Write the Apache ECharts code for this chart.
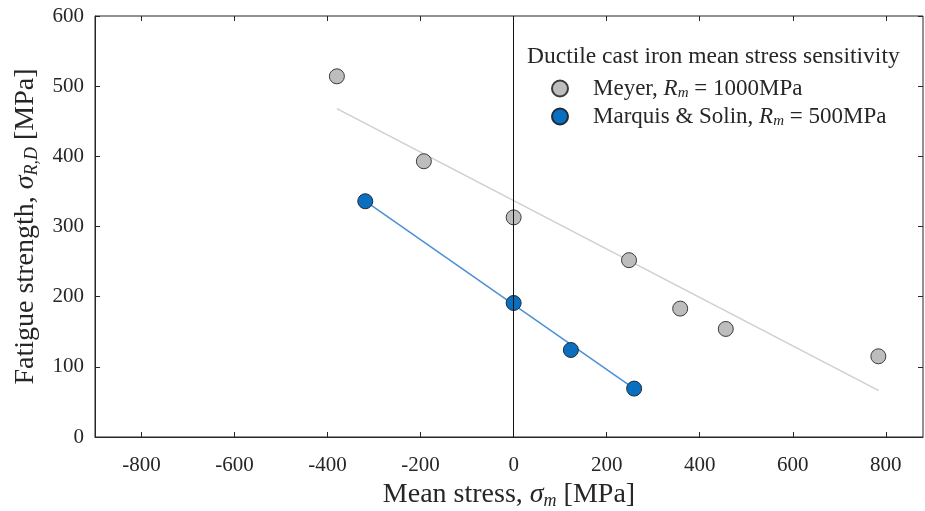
<!DOCTYPE html>
<html>
<head>
<meta charset="utf-8">
<script src="https://cdn.jsdelivr.net/npm/echarts@6/dist/echarts.min.js"></script>
<style>
  html, body { margin: 0; padding: 0; background: #fff; }
  #chart { width: 925px; height: 511px; }
</style>
</head>
<body>
<div id="chart"></div>
<script>
// mean stress [MPa], fatigue strength [MPa]
var meyerX = [-380, -193, 0, 248, 358, 456, 784]
var meyerY = [514, 393, 313, 252, 183, 154, 115]
var meyerFit = [[-380, 468], [785, 66]]

var msX = [-319, 0, 123, 259]
var msY = [336, 191, 124, 69]
var msFit = [[-319, 336], [259, 69]]

var xTicks = [-800, -600, -400, -200, 0, 200, 400, 600, 800]
var legendTitle = 'Ductile cast iron mean stress sensitivity'

var font = 'Liberation Serif'
var ink = '#262626'

function pairs (xs, ys) {
  return xs.map((x, i) => [x, ys[i]])
}

var chart = echarts.init(document.getElementById('chart'))

var richMath = {
  i: { fontFamily: font, fontStyle: 'italic', fontSize: 23, color: ink, lineHeight: 24 },
  sub: { fontFamily: font, fontStyle: 'italic', fontSize: 15, color: ink, lineHeight: 14, padding: [10, 0, 0, 0] },
  t: { fontFamily: font, fontSize: 23, color: ink, lineHeight: 24 }
}

var richName = {
  t: { fontFamily: font, fontSize: 28, color: ink },
  g: { fontFamily: font, fontStyle: 'italic', fontSize: 28, color: ink },
  s: { fontFamily: font, fontStyle: 'italic', fontSize: 18, color: ink, padding: [13, 0, 0, 0] }
}

chart.setOption({
  animation: false,
  title: {
    text: legendTitle,
    left: 522,
    top: 40,
    textStyle: { fontFamily: font, fontSize: 23.5, fontWeight: 'normal', color: ink }
  },
  legend: {
    orient: 'vertical',
    left: 551,
    top: 76,
    padding: 0,
    itemWidth: 16,
    itemHeight: 16,
    itemGap: 3,
    icon: 'circle',
    data: ['Meyer', 'Marquis'],
    formatter: name => name === 'Meyer'
      ? '{t|Meyer, }{i|R}{sub|m}{t| = 1000MPa}'
      : '{t|Marquis & Solin, }{i|R}{sub|m}{t| = 500MPa}',
    textStyle: { padding: [0, 0, 0, 20], rich: richMath }
  },
  grid: {
    left: 95, right: 2, top: 16, bottom: 74,
    outerBoundsMode: 'none',
    show: true, borderColor: '#262626', borderWidth: 1
  },
  xAxis: [{
    type: 'value',
    min: -900,
    max: 880,
    name: '{t|Mean stress, }{g|σ}{s|m}{t| [MPa]}',
    nameLocation: 'middle',
    nameGap: 41,
    nameTextStyle: { rich: richName },
    axisLine: { onZero: false, lineStyle: { color: ink } },
    axisTick: { inside: true, length: 5, customValues: xTicks, lineStyle: { color: ink } },
    axisLabel: { customValues: xTicks, fontFamily: font, fontSize: 21, color: ink, margin: 18 },
    splitLine: { show: false }
  }, {
    type: 'value',
    position: 'top',
    min: -900,
    max: 880,
    axisLine: { show: false, onZero: false },
    axisTick: { inside: true, length: 5, customValues: xTicks, lineStyle: { color: ink } },
    axisLabel: { show: false },
    splitLine: { show: false }
  }],
  yAxis: [{
    type: 'value',
    min: 0,
    max: 600,
    interval: 100,
    name: '{t|Fatigue strength, }{g|σ}{s|R,D}{t| [MPa]}',
    nameLocation: 'middle',
    nameRotate: 90,
    nameGap: 44,
    nameTextStyle: { rich: richName },
    axisLine: { onZero: false, lineStyle: { color: ink } },
    axisTick: { inside: true, length: 5, lineStyle: { color: ink } },
    axisLabel: { fontFamily: font, fontSize: 21, color: ink, margin: 11 },
    splitLine: { show: false }
  }, {
    type: 'value',
    position: 'right',
    min: 0,
    max: 600,
    interval: 100,
    axisLine: { show: false, onZero: false },
    axisTick: { inside: true, length: 5, lineStyle: { color: ink } },
    axisLabel: { show: false },
    splitLine: { show: false }
  }],
  series: [{
    name: 'MeyerFit',
    type: 'line',
    data: meyerFit,
    symbol: 'none',
    lineStyle: { color: '#cfcfcf', width: 1.5 },
    markLine: {
      silent: true,
      symbol: 'none',
      label: { show: false },
      lineStyle: { color: '#111', width: 1, type: 'solid' },
      data: [{ xAxis: 0 }]
    },
    z: 1
  }, {
    name: 'MarquisFit',
    type: 'line',
    data: msFit,
    symbol: 'none',
    lineStyle: { color: '#4d8fd6', width: 1.5 },
    z: 1
  }, {
    name: 'Meyer',
    type: 'scatter',
    data: pairs(meyerX, meyerY),
    symbolSize: 15,
    itemStyle: { color: '#bdbdbd', borderColor: '#3a3a3a', borderWidth: 1, opacity: 1 },
    z: 3
  }, {
    name: 'Marquis',
    type: 'scatter',
    data: pairs(msX, msY),
    symbolSize: 15,
    itemStyle: { color: '#0a6fbf', borderColor: '#1f2a3a', borderWidth: 1, opacity: 1 },
    z: 3
  }]
})
</script>
</body>
</html>
